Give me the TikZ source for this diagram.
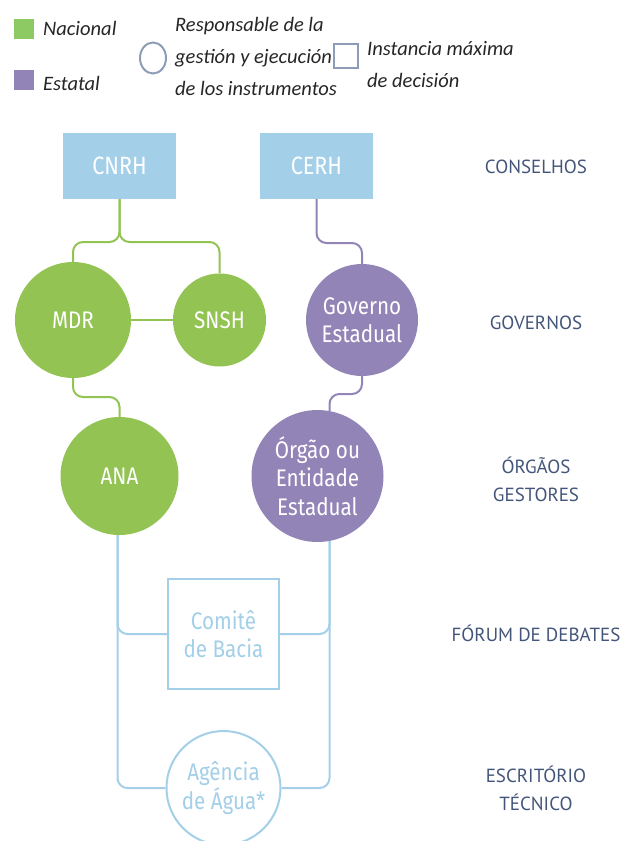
\documentclass[tikz,border=0pt]{standalone}
\usepackage{fontspec}
\setmainfont{Carlito}
\newfontfamily\diafont[FakeStretch=0.86]{Fira Sans}
\newfontfamily\levelfont{PT Sans}
\usetikzlibrary{shapes.geometric}
\definecolor{nacgreen}{HTML}{92C353}
\definecolor{legreen}{HTML}{8DCA63}
\definecolor{estpurple}{HTML}{9384B7}
\definecolor{skyblue}{HTML}{A3CFE9}
\definecolor{legendgray}{HTML}{8E9DB6}
\definecolor{labelnavy}{HTML}{44557A}
\definecolor{legendtxt}{HTML}{262626}
\begin{document}
\begin{tikzpicture}[x=1pt, y=-1pt,
  legtext/.style={anchor=base west, inner sep=0pt, text=legendtxt, font=\itshape\fontsize{20.5}{20}\selectfont},
  conbox/.style={rectangle, fill=skyblue, minimum width=113pt, minimum height=66pt, text=white, font=\diafont\fontsize{25}{25}\selectfont},
  gcirc/.style={circle, fill=nacgreen, text=white, inner sep=0pt, align=center, font=\diafont\fontsize{24}{28.5}\selectfont},
  pcirc/.style={gcirc, fill=estpurple},
  bshape/.style={draw=skyblue, line width=2pt, fill=white, text=skyblue, inner sep=0pt, align=center, font=\diafont\fontsize{24}{28.5}\selectfont},
  gline/.style={nacgreen, line width=2pt, rounded corners=10pt},
  pline/.style={gline, estpurple},
  bline/.style={gline, skyblue},
  level/.style={text=labelnavy, align=center, font=\levelfont\fontsize{19}{28}\selectfont}]
  \useasboundingbox (0,0) rectangle (630,841);
  % legend
  \node[fill=legreen, minimum size=20pt, inner sep=0pt] (lnac) at (24,29) {};
  \node[legtext] (tnac) at (43,35) {Nacional};
  \node[fill=estpurple, minimum size=20pt, inner sep=0pt] (lest) at (24,80) {};
  \node[legtext] (test) at (43,90) {Estatal};
  \node[ellipse, draw=legendgray, line width=2pt, minimum width=26pt, minimum height=31pt, inner sep=0pt] (lcirc) at (153,58) {};
  \node[legtext] (tresp1) at (175,31) {Responsable de la};
  \node[legtext] (tresp2) at (175,63) {gestión y ejecución};
  \node[legtext] (tresp3) at (175,95) {de los instrumentos};
  \node[draw=legendgray, line width=2pt, minimum size=24pt, inner sep=0pt] (lsq) at (346,56) {};
  \node[legtext] (tinst1) at (367,55) {Instancia máxima};
  \node[legtext] (tinst2) at (367,87) {de decisión};
  % councils and governments
  \node[conbox] (cnrh) at (119.5,166) {CNRH};
  \node[conbox] (cerh) at (316.5,166) {CERH};
  \node[gcirc, minimum size=116pt] (mdr) at (73,320) {MDR};
  \node[gcirc, minimum size=93pt] (snsh) at (219.5,320) {SNSH};
  \node[pcirc, minimum size=112pt] (gov) at (362,320) {Governo\\Estadual};
  % managing bodies
  \node[gcirc, minimum size=118pt] (ana) at (119.5,476) {ANA};
  \node[pcirc, minimum size=132pt] (org) at (317.5,476) {Órgão ou\\Entidade\\Estadual};
  \node[bshape, rectangle, minimum width=111pt, minimum height=110pt] (comite) at (223.5,634) {Comitê\\de Bacia};
  \node[bshape, circle, minimum size=114pt] (agua) at (223.5,788) {Agência\\de Água*};
  \coordinate (orgtop) at ([xshift=12pt, yshift=-1pt]org.north);
  \coordinate (orgbot) at ([xshift=12pt, yshift=1pt]org.south);
  \coordinate (anabot) at ([xshift=-2pt]ana.south);
  % connectors
  \draw[gline] (cnrh.south) -- (cnrh.south |- 0,242) -| (mdr.north);
  \draw[gline] (cnrh.south) -- (cnrh.south |- 0,242) -| (snsh.north);
  \draw[gline] (mdr) -- (snsh);
  \draw[gline] (mdr.south) -- (mdr.south |- 0,397) -| (ana.north);
  \draw[pline] (cerh.south) -- (cerh.south |- 0,243) -| (gov.north);
  \draw[pline] (gov.south) -- (gov.south |- 0,394) -| (orgtop);
  \draw[bline] (anabot) |- (comite.west);
  \draw[bline] (anabot) |- (agua.west);
  \draw[bline] (orgbot) |- (comite.east);
  \draw[bline] (orgbot) |- (agua.east);
  % levels
  \node[level] (lvcons) at (536,167) {CONSELHOS};
  \node[level] (lvgov) at (536,323) {GOVERNOS};
  \node[level] (lvorg) at (536,479) {ÓRGÃOS\\GESTORES};
  \node[level] (lvforum) at (536,633) {FÓRUM DE DEBATES};
  \node[level] (lvesc) at (536,788) {ESCRITÓRIO\\TÉCNICO};
\end{tikzpicture}
\end{document}
